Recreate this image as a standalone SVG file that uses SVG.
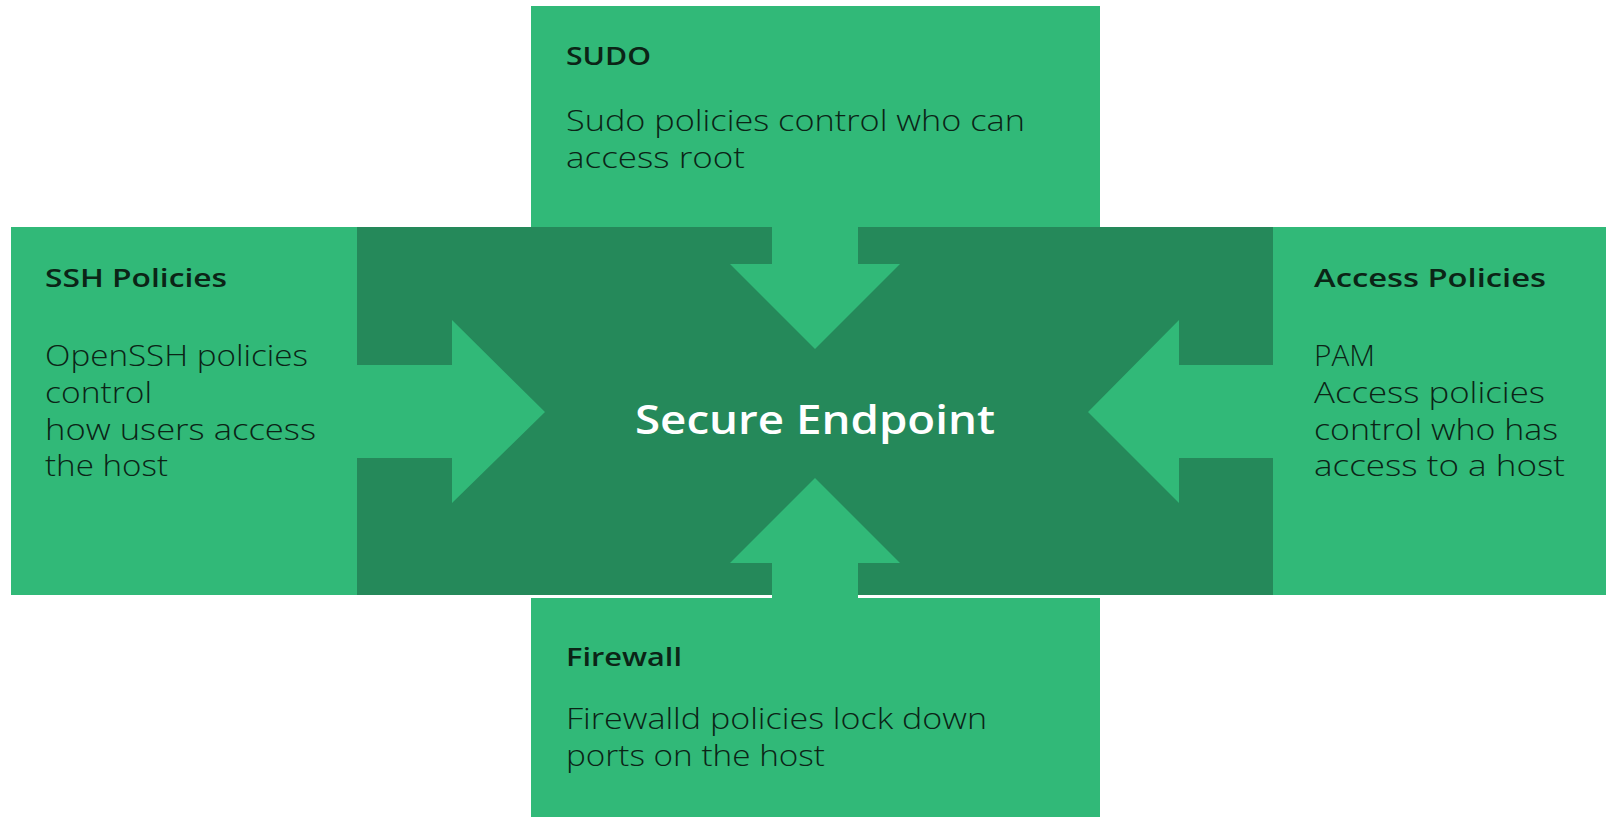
<svg xmlns="http://www.w3.org/2000/svg" width="1606" height="817" viewBox="0 0 1606 817">
<style>
.light{fill:#31b978}
.dark{fill:#25895a}
.title{font-family:"Open Sans","Liberation Sans",sans-serif;font-size:26px;font-weight:600;fill:#0b2416}
.body{font-family:"Open Sans","Liberation Sans",sans-serif;font-size:29px;font-weight:300;fill:#0b2416}
.center{font-family:"Open Sans","Liberation Sans",sans-serif;font-size:40px;font-weight:600;fill:#ffffff}
</style>
<rect width="1606" height="817" fill="#ffffff"/>
<g id="center">
<rect class="dark" x="357" y="227" width="916" height="368"/>
<text class="center" x="815" y="434" text-anchor="middle" textLength="360" lengthAdjust="spacingAndGlyphs">Secure Endpoint</text>
</g>
<g id="sudo">
<rect class="light" x="531" y="6" width="569" height="221"/>
<text class="title" x="566" y="65" textLength="85" lengthAdjust="spacingAndGlyphs">SUDO</text>
<text class="body" x="566" y="131" textLength="459" lengthAdjust="spacingAndGlyphs">Sudo policies control who can</text>
<text class="body" x="566" y="168" textLength="179" lengthAdjust="spacingAndGlyphs">access root</text>
</g>
<g id="ssh">
<rect class="light" x="11" y="227" width="346" height="368"/>
<text class="title" x="45" y="287" textLength="182" lengthAdjust="spacingAndGlyphs">SSH Policies</text>
<text class="body" x="45" y="366" textLength="263" lengthAdjust="spacingAndGlyphs">OpenSSH policies</text>
<text class="body" x="45" y="403" textLength="107" lengthAdjust="spacingAndGlyphs">control</text>
<text class="body" x="45" y="440" textLength="271" lengthAdjust="spacingAndGlyphs">how users access</text>
<text class="body" x="45" y="476" textLength="123" lengthAdjust="spacingAndGlyphs">the host</text>
</g>
<g id="access">
<rect class="light" x="1273" y="227" width="333" height="368"/>
<text class="title" x="1314" y="287" textLength="232" lengthAdjust="spacingAndGlyphs">Access Policies</text>
<text class="body" x="1314" y="366" textLength="61" lengthAdjust="spacingAndGlyphs">PAM</text>
<text class="body" x="1314" y="403" textLength="231" lengthAdjust="spacingAndGlyphs">Access policies</text>
<text class="body" x="1314" y="440" textLength="244" lengthAdjust="spacingAndGlyphs">control who has</text>
<text class="body" x="1314" y="476" textLength="251" lengthAdjust="spacingAndGlyphs">access to a host</text>
</g>
<g id="firewall">
<rect class="light" x="531" y="598" width="569" height="219"/>
<text class="title" x="566" y="666" textLength="116" lengthAdjust="spacingAndGlyphs">Firewall</text>
<text class="body" x="566" y="729" textLength="421" lengthAdjust="spacingAndGlyphs">Firewalld policies lock down</text>
<text class="body" x="566" y="766" textLength="259" lengthAdjust="spacingAndGlyphs">ports on the host</text>
</g>
<g id="connectors">
<polygon class="light" points="772,226 858,226 858,264 900,264 815,349 730,264 772,264"/>
<polygon class="light" points="772,599 858,599 858,563 900,563 815,478 730,563 772,563"/>
<polygon class="light" points="356,365 452,365 452,320 545,412 452,503 452,458 356,458"/>
<polygon class="light" points="1274,365 1179,365 1179,320 1088,412 1179,503 1179,458 1274,458"/>
</g>
</svg>
